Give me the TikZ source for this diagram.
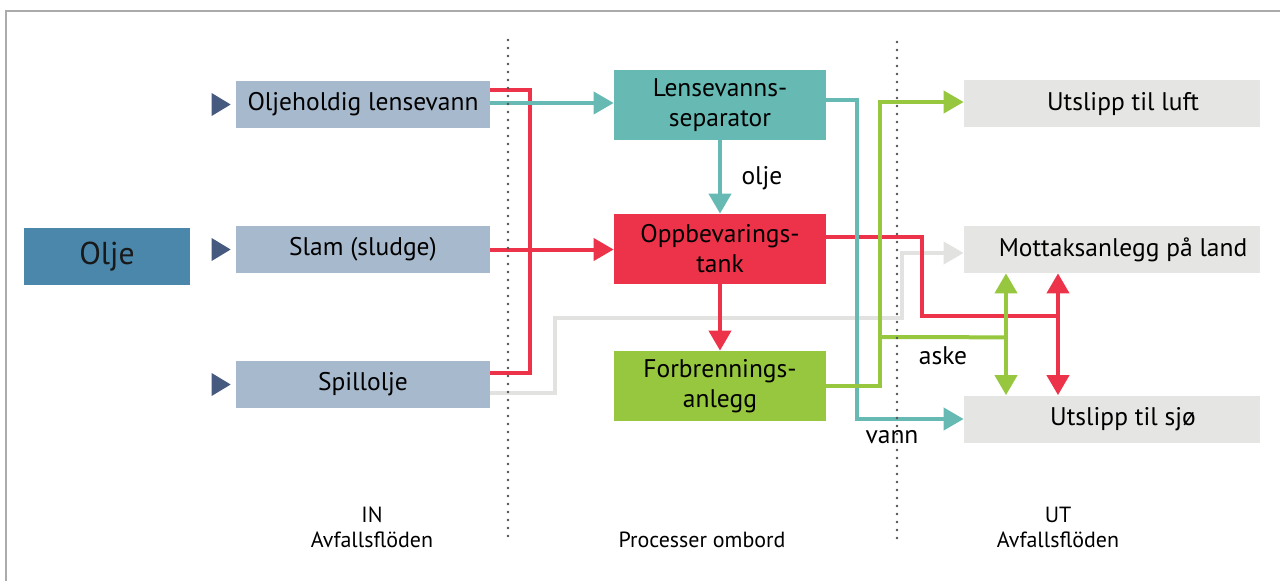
\documentclass[tikz,border=0pt]{standalone}
\usepackage{fontspec}
\setmainfont{PT Sans}
\usetikzlibrary{arrows.meta,calc}

\definecolor{oljeblue}{HTML}{4A87AB}
\definecolor{inblue}{HTML}{A7B9CD}
\definecolor{markblue}{HTML}{46597F}
\definecolor{tealc}{HTML}{67BAB3}
\definecolor{redc}{HTML}{EC3349}
\definecolor{greenc}{HTML}{96C73E}
\definecolor{outgray}{HTML}{E5E5E4}
\definecolor{linegray}{HTML}{E2E2E1}
\definecolor{framegray}{HTML}{ABABAB}
\definecolor{dotgray}{HTML}{505050}

\begin{document}
\begin{tikzpicture}[x=0.2mm,y=-0.2mm,
  box/.style={rectangle, inner sep=0pt, align=center, text=black,
    font=\fontsize{14.5}{17}\selectfont},
  oljebox/.style={box, fill=oljeblue, minimum width=33.2mm, minimum height=11.4mm,
    font=\fontsize{18}{20}\selectfont, text=black!90},
  inbox/.style={box, fill=inblue, minimum width=50.8mm, minimum height=9.4mm},
  procbox/.style={box, minimum width=42.4mm, minimum height=14mm},
  outbox/.style={box, fill=outgray, minimum width=59.2mm, minimum height=9.4mm},
  flow/.style={line width=0.8mm},
  arr/.style={-{Triangle[length=4mm,width=4.4mm]}},
  dblarr/.style={{Triangle[length=4mm,width=4.4mm]}-{Triangle[length=4mm,width=4.4mm]}},
  marker/.style={fill=markblue},
  flowlabel/.style={font=\fontsize{14.5}{17}\selectfont, text=black},
  zonelabel/.style={font=\fontsize{12.5}{15}\selectfont, text=black, anchor=base},
  sep/.style={dotgray, line width=0.55mm, line cap=round, dash pattern=on 0pt off 1.6mm},
  frame/.style={framegray, line width=0.4mm}
]
\useasboundingbox (0,0) rectangle (1280,581);

% outer frame (top and left edges)
\draw[frame] (1280,11) -- (6,11) -- (6,581);

% main source
\node[oljebox] (olje) at (107,256.5) {Olje};

% incoming waste streams
\node[inbox] (oljeh) at (363,104.5) {Oljeholdig lensevann};
\node[inbox] (slam)  at (363,249.5) {Slam (sludge)};
\node[inbox] (spill) at (363,384.5) {Spillolje};

\foreach \n in {oljeh,slam,spill}
  \fill[marker] ($(\n.west)+(-24,-11.5)$) -- ++(19,11.5) -- ++(-19,11.5) -- cycle;

% on-board processes
\node[procbox, fill=tealc]  (lsep) at (720,105) {Lensevanns-\\separator};
\node[procbox, fill=redc]   (tank) at (720,249) {Oppbevarings-\\tank};
\node[procbox, fill=greenc] (forb) at (720,386) {Forbrennings-\\anlegg};

% outgoing streams
\node[outbox] (luft)   at (1112,104)   {\hspace*{4.4mm}Utslipp til luft};
\node[outbox] (mottak) at (1112,249.5) {\hspace*{4.4mm}Mottaksanlegg på land};
\node[outbox] (sjo)    at (1112,419)   {\hspace*{4.4mm}Utslipp til sjø};

% spill oil to reception on shore (light gray)
\draw[flow, linegray, arr] ($(spill.east)+(0,8)$) -- ++(65,0)
  |- ($(mottak.west)+(-62,68.5)$) |- ($(mottak.west)+(0,3.5)$);

% red: oily streams collected into the storage tank
\draw[flow, redc] ($(oljeh.east)+(0,-14.5)$) -- ++(40,0) |- ($(spill.east)+(0,-11.5)$);
\draw[flow, redc, arr] (slam.east) -- (slam.east -| tank.west);
\draw[flow, redc, arr] (tank.south) -- (forb.north);
\draw[flow, redc] ($(tank.east)+(0,-12)$) -- ++(96,0) |- ($(mottak.south)+(-54,43)$);
\draw[flow, redc, dblarr] ($(mottak.south)+(-54,0)$) -- ($(sjo.north)+(-54,0)$);

% teal: bilge water through the separator
\draw[flow, tealc, arr] ($(oljeh.east)+(0,-1.5)$) coordinate (t1) -- (t1 -| lsep.west);
\draw[flow, tealc, arr] (lsep.south) -- (tank.north);
\draw[flow, tealc, arr] ($(lsep.east)+(0,-5)$) -- ++(31,0) |- (sjo.west);

% green: incinerator exhaust and ash
\draw[flow, greenc, arr] (forb.east) -- ++(54,0) |- ($(luft.west)+(0,-2)$);
\draw[flow, greenc] ($(forb.east)+(54,-49)$) -- ($(mottak.south)+(-106,64)$);
\draw[flow, greenc, dblarr] ($(mottak.south)+(-106,0)$) -- ($(sjo.north)+(-106,0)$);

% flow labels
\node[flowlabel] (lbolje) at (762,178) {olje};
\node[flowlabel] (lbaske) at (943,356) {aske};
\node[flowlabel] (lbvann) at (892,437) {vann};

% zone separators
\draw[sep] (508,40) -- (508,540);
\draw[sep] (897,42) -- (897,540);

% zone captions
\node[zonelabel] (in1)  at (372,522)  {IN};
\node[zonelabel] (in2)  at (372,547)  {Avfallsflöden};
\node[zonelabel] (mid)  at (702,547)  {Processer ombord};
\node[zonelabel] (ut1)  at (1058,522) {UT};
\node[zonelabel] (ut2)  at (1058,547) {Avfallsflöden};
\end{tikzpicture}
\end{document}
